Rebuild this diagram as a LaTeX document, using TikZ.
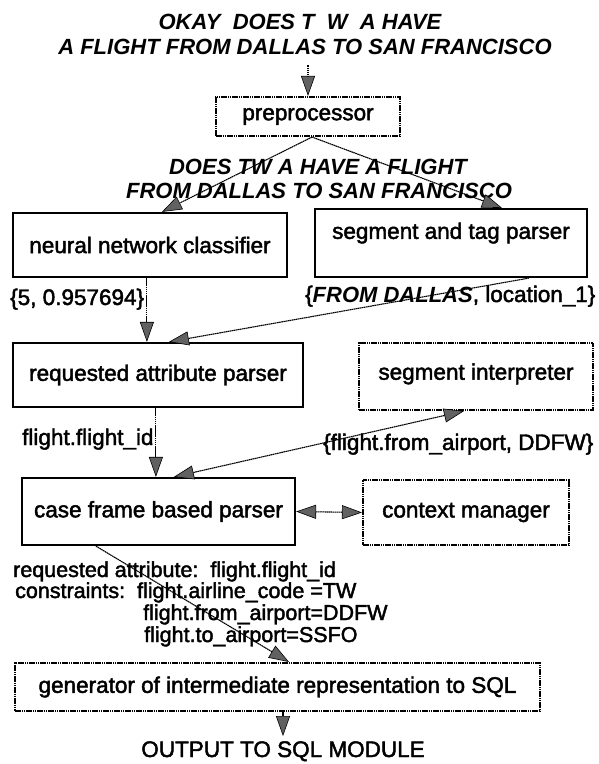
\documentclass[tikz,border=0pt]{standalone}
\usepackage{fontspec}
\setmainfont{Liberation Sans}[FakeBold=2]
\newfontfamily\queryfont{Liberation Sans Bold Italic}
\usetikzlibrary{arrows.meta,calc}

\begin{document}
\begin{tikzpicture}[x=1pt,y=-1pt,
  every node/.style={font=\fontsize{22.5}{26}\selectfont, inner sep=0pt},
  small/.style={font=\fontsize{21.5}{24}\selectfont},
  query/.style={font=\fontsize{22}{26}\selectfont\queryfont},
  solidbox/.style={draw, line width=2.2pt},
  dotbox/.style={draw, line width=2.1pt, dash pattern=on 1.6pt off 0.6pt},
  hatchtip/.tip={Triangle[width=14pt,length=20pt,fill=black!62,color=black,line width=0.6pt]},
  conn/.style={line width=1.1pt, dash pattern=on 1.6pt off 0.5pt, -hatchtip},
  biconn/.style={line width=1.1pt, dash pattern=on 1.6pt off 0.5pt, hatchtip-hatchtip},
]
\useasboundingbox (0,0) rectangle (598,764);

% spoken query and its cleaned-up form
\node[query, anchor=base] (q1) at (300,29) {OKAY\ \ DOES T\ \ W\ \ A HAVE};
\node[query, anchor=base] (q2) at (305,54) {A FLIGHT FROM DALLAS TO SAN FRANCISCO};
\node[query, anchor=base] (c1) at (318,174) {DOES TW A HAVE A FLIGHT};
\node[query, anchor=base] (c2) at (319,198) {FROM DALLAS TO SAN FRANCISCO};

% processing modules
\node[dotbox, minimum width=184pt, minimum height=39pt] (pre) at (308,116.5) {preprocessor};
\node[solidbox, minimum width=274pt, minimum height=64pt] (nn) at (150,245) {neural network classifier};
\node[solidbox, minimum width=272pt, minimum height=68pt, text height=16.4pt, text depth=24.7pt] (stp) at (451,243) {segment and tag parser};
\node[solidbox, minimum width=290pt, minimum height=64pt] (rap) at (158,375) {requested attribute parser};
\node[dotbox, minimum width=234pt, minimum height=67pt, text height=16.4pt, text depth=10pt] (si) at (476,376.5) {segment interpreter};
\node[solidbox, minimum width=273pt, minimum height=67pt] (cfp) at (158.5,511.5) {case frame based parser};
\node[dotbox, minimum width=206pt, minimum height=65pt] (cm) at (466,512.5) {context manager};
\node[dotbox, minimum width=525pt, minimum height=48pt] (gen) at (277.5,687) {generator of intermediate representation to SQL};
\node[anchor=base] (out) at (283,757) {OUTPUT TO SQL MODULE};

% intermediate results
\node[anchor=base west] (nnres) at (10,305) {\{5, 0.957694\}};
\node[anchor=base west] (stpres) at (305,302) {\{{\fontsize{22}{26}\selectfont\queryfont FROM DALLAS}, location\_1\}};
\node[anchor=base west] (rapres) at (22,445) {flight.flight\_id};
\node[anchor=base west] (sires) at (323,450) {\{flight.from\_airport, DDFW\}};
\node[small, anchor=base west] (fr1) at (13,577) {requested attribute:\ \ flight.flight\_id};
\node[small, anchor=base west] (fr2) at (15,598) {constraints:\ \ flight.airline\_code =TW};
\node[small, anchor=base west] (fr3) at (143,620) {flight.from\_airport=DDFW};
\node[small, anchor=base west] (fr4) at (144,642) {flight.to\_airport=SSFO};

% data flow
\coordinate (qfoot) at ($(q2.south -| pre.north)+(0,11)$);
\draw[conn] (qfoot) -- (pre.north);
\draw[conn] ($(pre.south)+(4,0)$) -- ($(nn.north west)+(150,0)$);
\draw[conn] ($(pre.south)+(4,0)$) -- ($(stp.north west)+(188,0)$);
\draw[conn] ($(nn.south west)+(135,0)$) -- ($(rap.north west)+(135,0)$);
\draw[conn] ($(stp.south west)+(215,0)$) -- ($(rap.north west)+(157,0)$);
\draw[conn] ($(rap.south west)+(144,0)$) -- ($(cfp.north west)+(135,0)$);
\draw[biconn] ($(si.south west)+(106,0)$) -- ($(cfp.north west)+(153,0)$);
\draw[biconn] (cfp.east) -- (cm.west);
\draw[conn] ($(cfp.south west)+(75,0)$) -- ($(gen.north west)+(275,0)$);
\draw[conn] (out.north |- gen.south) -- ($(out.north)+(0,-5)$);
\end{tikzpicture}
\end{document}
